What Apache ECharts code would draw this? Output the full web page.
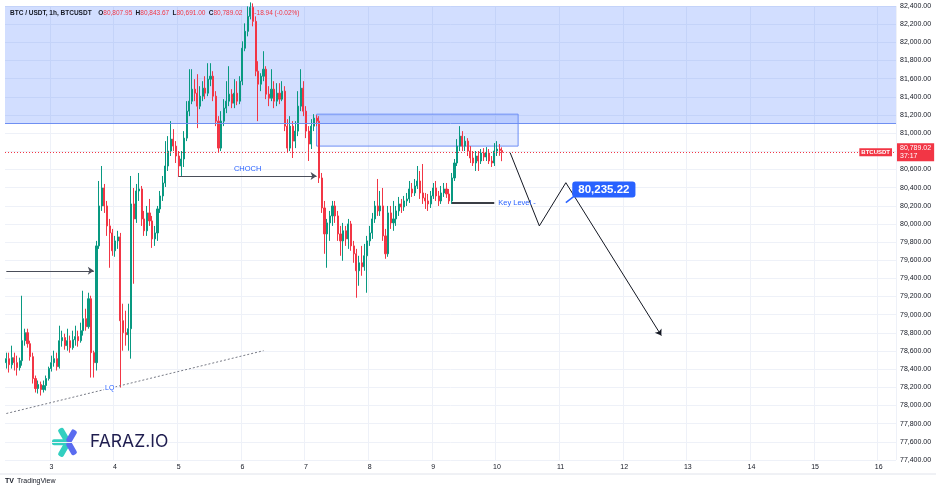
<!DOCTYPE html>
<html>
<head>
<meta charset="utf-8">
<title>BTC / USDT 1h</title>
<script src="https://cdn.jsdelivr.net/npm/echarts@6/dist/echarts.min.js"></script>
<style>
  html, body { margin: 0; padding: 0; background: #fff; }
  #chart { width: 936px; height: 492px; }
</style>
</head>
<body>
<div id="chart"></div>
<script>
// hourly candles, the first one opens on day 2 at 07:00
var startDay = 2
var startHour = 7
var slotCount = 336 // hourly slots on the axis, empty space on the right included
var dayLabels = ['3', '4', '5', '6', '7', '8', '9', '10', '11', '12', '13', '14', '15', '16']
var priceTicks = { min: 77400, max: 82400, step: 200 }

// [open, close, low, high]
var candles = [
  [78472, 78516, 78407, 78582], [78516, 78450, 78363, 78582], [78450, 78527, 78407, 78659], [78527, 78472, 78385, 78582],
  [78472, 78417, 78330, 78549], [78417, 78494, 78385, 78527], [78494, 78714, 78439, 79209], [78714, 78802, 78659, 78846],
  [78802, 78681, 78637, 78846], [78681, 78538, 78494, 78714], [78538, 78297, 78242, 78582], [78297, 78187, 78143, 78330],
  [78187, 78231, 78132, 78275], [78231, 78176, 78110, 78264], [78176, 78220, 78143, 78275], [78220, 78297, 78165, 78330],
  [78297, 78407, 78275, 78428], [78407, 78472, 78374, 78549], [78472, 78516, 78428, 78604], [78516, 78428, 78385, 78582],
  [78428, 78714, 78407, 78879], [78714, 78748, 78648, 78824], [78748, 78659, 78615, 78791], [78659, 78714, 78604, 78846],
  [78714, 78637, 78582, 78770], [78637, 78725, 78615, 78824], [78725, 78759, 78659, 78879], [78759, 78714, 78648, 78824],
  [78714, 78824, 78692, 78912], [78824, 78956, 78770, 79264], [78956, 78868, 78824, 79066], [78868, 79176, 78846, 79242],
  [79176, 78582, 78308, 79209], [78582, 78472, 78308, 78604], [78472, 79758, 78385, 79813], [79758, 80198, 79725, 80473],
  [80198, 80396, 80143, 80638], [80396, 80198, 80121, 80440], [80198, 79978, 79868, 80253], [79978, 79901, 79517, 80055],
  [79901, 79704, 79649, 79945], [79704, 79813, 79638, 79868], [79813, 79857, 79725, 79924], [79857, 78934, 78198, 79901],
  [78934, 78802, 78604, 79121], [78802, 78780, 78659, 79044], [78780, 78846, 78604, 79121], [78846, 80220, 78516, 80528],
  [80220, 80055, 79341, 80396], [80055, 80363, 80011, 80440], [80363, 80385, 80253, 80561], [80385, 80055, 79978, 80418],
  [80055, 79924, 79868, 80143], [79924, 80121, 79868, 80198], [80121, 80033, 79978, 80275], [80033, 79835, 79736, 80088],
  [79835, 79901, 79758, 79978], [79901, 80165, 79813, 80198], [80165, 80308, 80121, 80363], [80308, 80451, 80253, 80528],
  [80451, 80638, 80407, 80912], [80638, 80803, 80583, 80967], [80803, 80934, 80748, 81132], [80934, 80857, 80803, 81044],
  [80857, 80748, 80671, 80912], [80748, 80638, 80517, 80803], [80638, 80715, 80528, 80803], [80715, 80945, 80627, 81022],
  [80945, 81242, 80912, 81352], [81242, 81352, 81187, 81704], [81352, 81484, 81319, 81704], [81484, 81440, 81352, 81594],
  [81440, 81297, 81055, 81649], [81297, 81407, 81264, 81517], [81407, 81495, 81352, 81572], [81495, 81440, 81374, 81627],
  [81440, 81594, 81407, 81770], [81594, 81627, 81517, 81770], [81627, 81407, 81352, 81682], [81407, 81132, 81077, 81462],
  [81132, 80835, 80781, 81187], [80835, 81132, 80803, 81242], [81132, 81275, 81077, 81374], [81275, 81352, 81220, 81572],
  [81352, 81429, 81297, 81737], [81429, 81330, 81275, 81484], [81330, 81440, 81275, 81594], [81440, 81352, 81308, 81572],
  [81352, 81572, 81319, 81627], [81572, 81935, 81528, 82011], [81935, 82121, 81902, 82209], [82121, 82286, 82066, 82396],
  [82286, 82385, 82253, 82440], [82385, 82231, 82176, 82429], [82231, 81682, 81627, 82286], [81682, 81539, 81132, 81792],
  [81539, 81627, 81462, 81660], [81627, 81704, 81572, 81902], [81704, 81429, 81374, 81737], [81429, 81385, 81297, 81517],
  [81385, 81484, 81352, 81704], [81484, 81352, 81275, 81572], [81352, 81440, 81297, 81550], [81440, 81374, 81319, 81550],
  [81374, 81462, 81352, 81572], [81462, 81077, 81022, 81517], [81077, 80835, 80781, 81154], [80835, 81077, 80803, 81187],
  [81077, 80912, 80726, 81132], [80912, 81022, 80835, 81132], [81022, 81297, 80967, 81462], [81297, 81495, 81242, 81704],
  [81495, 81242, 81187, 81572], [81242, 81022, 80945, 81297], [81022, 80880, 80693, 81077], [80880, 81077, 80825, 81154],
  [81077, 81165, 81022, 81209], [81165, 81132, 81077, 81198], [81132, 80506, 80451, 81187], [80506, 80176, 80121, 80561],
  [80176, 79890, 79671, 80253], [79890, 80011, 79517, 80055], [80011, 80088, 79813, 80143], [80088, 80198, 79978, 80253],
  [80198, 80088, 80011, 80253], [80088, 79890, 79813, 80143], [79890, 79813, 79649, 79978], [79813, 79924, 79594, 80011],
  [79924, 79835, 79758, 79978], [79835, 80000, 79725, 80055], [80000, 79758, 79704, 80033], [79758, 79671, 79572, 79813],
  [79671, 79484, 79187, 79725], [79484, 79572, 79319, 79649], [79572, 79528, 79429, 79758], [79528, 79649, 79484, 79780],
  [79649, 79813, 79242, 79868], [79813, 79901, 79758, 79978], [79901, 80055, 79835, 80121], [80055, 80198, 80011, 80253],
  [80198, 80143, 80088, 80495], [80143, 80198, 80088, 80363], [80198, 79868, 79813, 80396], [79868, 79671, 79616, 79945],
  [79671, 80121, 79638, 80198], [80121, 80011, 79945, 80198], [80011, 80055, 79924, 80253], [80055, 80143, 79978, 80198],
  [80143, 80220, 80088, 80297], [80220, 80187, 80121, 80275], [80187, 80253, 80143, 80308], [80253, 80275, 80198, 80341],
  [80275, 80385, 80231, 80473], [80385, 80341, 80297, 80451], [80341, 80418, 80308, 80495], [80418, 80473, 80385, 80638],
  [80473, 80341, 80275, 80583], [80341, 80286, 80220, 80660], [80286, 80253, 80165, 80341], [80253, 80220, 80143, 80330],
  [80220, 80308, 80176, 80363], [80308, 80396, 80275, 80451], [80396, 80308, 80253, 80473], [80308, 80253, 80198, 80363],
  [80253, 80341, 80220, 80418], [80341, 80385, 80297, 80451], [80385, 80330, 80286, 80451], [80330, 80253, 80220, 80385],
  [80253, 80506, 80220, 80561], [80506, 80671, 80473, 80715], [80671, 80857, 80638, 80934], [80857, 80967, 80803, 81077],
  [80967, 80857, 80803, 81022], [80857, 80912, 80803, 80967], [80912, 80803, 80748, 80945], [80803, 80726, 80671, 80857],
  [80726, 80671, 80638, 80803], [80671, 80748, 80583, 80803], [80748, 80693, 80583, 80803], [80693, 80781, 80660, 80825],
  [80781, 80737, 80693, 80835], [80737, 80781, 80693, 80846], [80781, 80693, 80660, 80825], [80693, 80671, 80627, 80748],
  [80671, 80803, 80638, 80890], [80803, 80825, 80748, 80912], [80825, 80807.96, 80750, 80880], [80807.95, 80789.02, 80691.00, 80843.67]
]

var countdown = '37:17'

// drawings: [category index, price]
var supplyZone = [81110, 82400]
var orderBlock = [[117, 81209], [193, 80857]]
var choch = [[65, 80528], [117, 80528]]
var sweepArrow = [[0, 79484], [33, 79484]]
var lqLine = [[0, 77912], [97, 78604]]
var lqLabel = [39, 78187]
var keyLevel = [[168, 80231], [184, 80231]]
var projection = [[190, 80784], [201, 79978], [211, 80454], [247, 78770]]
var target = { point: [211, 80235], tail: [215, 80325], text: '80,235.22' }

var categories = []
for (var k = 0; k < slotCount; k++) {
  var h = startHour + k
  var hh = h % 24
  categories.push((startDay + Math.floor(h / 24)) + ' ' + (hh < 10 ? '0' : '') + hh + ':00')
}

function fmt(v) {
  return v.toFixed(2).replace(/\B(?=(\d{3})+(?!\d))/g, ',')
}
function isDayStart(idx, val) {
  var parts = categories[idx].split(' ')
  return parts[1] === '00:00' && dayLabels.indexOf(parts[0]) >= 0
}

var last = candles[candles.length - 1]
var prevClose = candles[candles.length - 2][1]
var change = last[1] - prevClose
var headerText =
  '{b|BTC / USDT, 1h, BTCUSDT}  ' +
  '{b|O}{r|' + fmt(last[0]) + '} {b|H}{r|' + fmt(last[3]) + '} ' +
  '{b|L}{r|' + fmt(last[2]) + '} {b|C}{r|' + fmt(last[1]) + '}' +
  '{chg|' + change.toFixed(2) + ' (' + (change / prevClose * 100).toFixed(2) + '%)}'

var ink = '#131722'
var up = '#089981'
var down = '#f23645'
var blue = '#2962ff'
var font = "'Liberation Sans', Arial, sans-serif"

var projLines = []
for (var p = 0; p < projection.length - 1; p++) {
  var endPt = { coord: projection[p + 1] }
  if (p === projection.length - 2) endPt.symbol = 'arrow'
  projLines.push([{ coord: projection[p], lineStyle: { color: ink, width: 1, type: 'solid' } }, endPt])
}

var chart = echarts.init(document.getElementById('chart'))
chart.setOption({
  animation: false,
  backgroundColor: '#fff',
  grid: { left: 5, right: 40, top: 6, bottom: 32, containLabel: false, outerBoundsMode: 'none' },
  xAxis: {
    type: 'category',
    data: categories,
    boundaryGap: true,
    axisLine: { show: false },
    axisTick: { show: false },
    axisLabel: {
      interval: isDayStart,
      formatter: function (v) { return v.split(' ')[0] },
      color: ink,
      fontSize: 7,
      fontFamily: font,
      margin: 4
    },
    splitLine: { show: true, interval: isDayStart, lineStyle: { color: '#eef1f8', width: 1 } }
  },
  yAxis: {
    type: 'value',
    position: 'right',
    scale: true,
    min: priceTicks.min,
    max: priceTicks.max,
    interval: priceTicks.step,
    axisLine: { show: false },
    axisTick: { show: false },
    axisLabel: { formatter: fmt, color: ink, fontSize: 7, fontFamily: font, margin: 4 },
    splitLine: { show: true, lineStyle: { color: '#eef1f8', width: 1 } }
  },
  series: [
    {
      type: 'candlestick',
      data: candles,
      barWidth: 1.6,
      clip: false,
      itemStyle: { color: up, color0: down, borderColor: up, borderColor0: down, borderWidth: 1 },
      markArea: {
        silent: true,
        data: [
          [{ yAxis: supplyZone[0], itemStyle: { color: 'rgba(41,98,255,0.21)' } }, { yAxis: supplyZone[1] }],
          [{ coord: orderBlock[0], itemStyle: { color: 'rgba(41,98,255,0.14)', borderColor: '#6d8ef5', borderWidth: 1 } },
           { coord: orderBlock[1] }]
        ]
      },
      markLine: {
        silent: true,
        symbol: ['none', 'none'],
        symbolSize: 6,
        lineStyle: { type: 'solid' },
        label: { show: false },
        data: [
          { yAxis: supplyZone[0], lineStyle: { color: '#6f8ff2', width: 1, type: 'solid' } },
          {
            yAxis: last[1],
            lineStyle: { color: down, width: 1, type: [1, 2] },
            label: {
              show: true, position: 'end', distance: 1,
              formatter: fmt(last[1]) + '\n' + countdown,
              backgroundColor: down, color: '#fff', fontSize: 7, lineHeight: 8,
              fontFamily: font, padding: [1, 3]
            }
          },
          {
            yAxis: last[1],
            lineStyle: { color: down, width: 1, type: [1, 2] },
            label: {
              show: true, position: 'insideEnd', distance: 4,
              formatter: 'BTCUSDT', backgroundColor: down, color: '#fff',
              fontSize: 6, fontWeight: 'bold', fontFamily: font, padding: [1, 2]
            }
          },
          [{ coord: choch[0], lineStyle: { color: '#4a4e59', width: 1, type: 'solid' },
             label: { show: true, position: 'insideMiddleTop', formatter: 'CHOCH', color: blue, fontSize: 7.5, fontFamily: font, distance: 3 } },
           { coord: choch[1], symbol: 'arrow' }],
          [{ coord: sweepArrow[0], lineStyle: { color: '#4a4e59', width: 1, type: 'solid' } },
           { coord: sweepArrow[1], symbol: 'arrow' }],
          [{ coord: lqLine[0], lineStyle: { color: '#787b86', width: 1, type: [2, 2] } }, { coord: lqLine[1] }],
          [{ coord: keyLevel[0], lineStyle: { color: '#3a3d45', width: 2, type: 'solid' },
             label: { show: true, position: 'end', formatter: 'Key Level -', color: blue, fontSize: 7.5, fontFamily: font, distance: 4 } },
           { coord: keyLevel[1] }],
          [{ coord: target.point, lineStyle: { color: blue, width: 1.5, type: 'solid' } }, { coord: target.tail }]
        ].concat(projLines)
      },
      markPoint: {
        silent: true,
        symbol: 'circle',
        symbolSize: 0,
        data: [
          {
            coord: lqLabel,
            label: { show: true, formatter: 'LQ', color: blue, fontSize: 7, fontFamily: font, backgroundColor: '#fff', padding: [0, 1] }
          },
          {
            coord: target.point,
            label: {
              show: true, formatter: target.text, offset: [38, -13],
              color: '#fff', backgroundColor: blue, borderRadius: 3, padding: [2, 6],
              fontSize: 11.5, fontWeight: 'bold', fontFamily: font
            }
          }
        ]
      }
    }
  ],
  graphic: [
    {
      type: 'text', left: 10, top: 7, z: 10,
      style: {
        text: headerText,
        rich: {
          b: { fontSize: 6.5, fontWeight: 'bold', fill: ink, fontFamily: font },
          r: { fontSize: 6.5, fill: down, fontFamily: font },
          chg: { fontSize: 6.5, fill: down, fontFamily: font, padding: [0, 0, 0, 12] }
        }
      }
    },
    { type: 'line', shape: { x1: 0, y1: 474, x2: 936, y2: 474 }, style: { stroke: '#e0e3eb', lineWidth: 1 } },
    {
      type: 'group', left: 52, top: 427, z: 10,
      children: [
        { type: 'rect', shape: { x: 1, y: 10, width: 16, height: 6, r: 2 }, style: { fill: '#33cfc0' } },
        { type: 'rect', shape: { x: 1, y: 10, width: 16, height: 6, r: 2 }, originX: 17, originY: 13, rotation: Math.PI / 3, style: { fill: '#33cfc0' } },
        { type: 'rect', shape: { x: 1, y: 10, width: 16, height: 6, r: 2 }, originX: 17, originY: 13, rotation: -Math.PI / 3, style: { fill: '#33cfc0' } },
        { type: 'rect', shape: { x: 17, y: 10, width: 14, height: 6, r: 2 }, originX: 17, originY: 13, rotation: Math.PI / 3, style: { fill: '#5a6cf0' } },
        { type: 'rect', shape: { x: 17, y: 10, width: 14, height: 6, r: 2 }, originX: 17, originY: 13, rotation: -Math.PI / 3, style: { fill: '#5a6cf0' } }
      ]
    },
    {
      type: 'text', left: 90, top: 433, z: 10,
      style: { text: 'FARAZ.IO', fontSize: 17.5, fontFamily: 'Inter, "Noto Sans", sans-serif', fill: '#1f1d4f' }
    },
    {
      type: 'text', left: 5, top: 478, z: 10,
      style: { text: 'TV', fontSize: 7, fontWeight: 'bold', fontFamily: font, fill: ink }
    },
    {
      type: 'text', left: 17, top: 478, z: 10,
      style: { text: 'TradingView', fontSize: 7, fontFamily: font, fill: ink }
    }
  ]
})
</script>
</body>
</html>
